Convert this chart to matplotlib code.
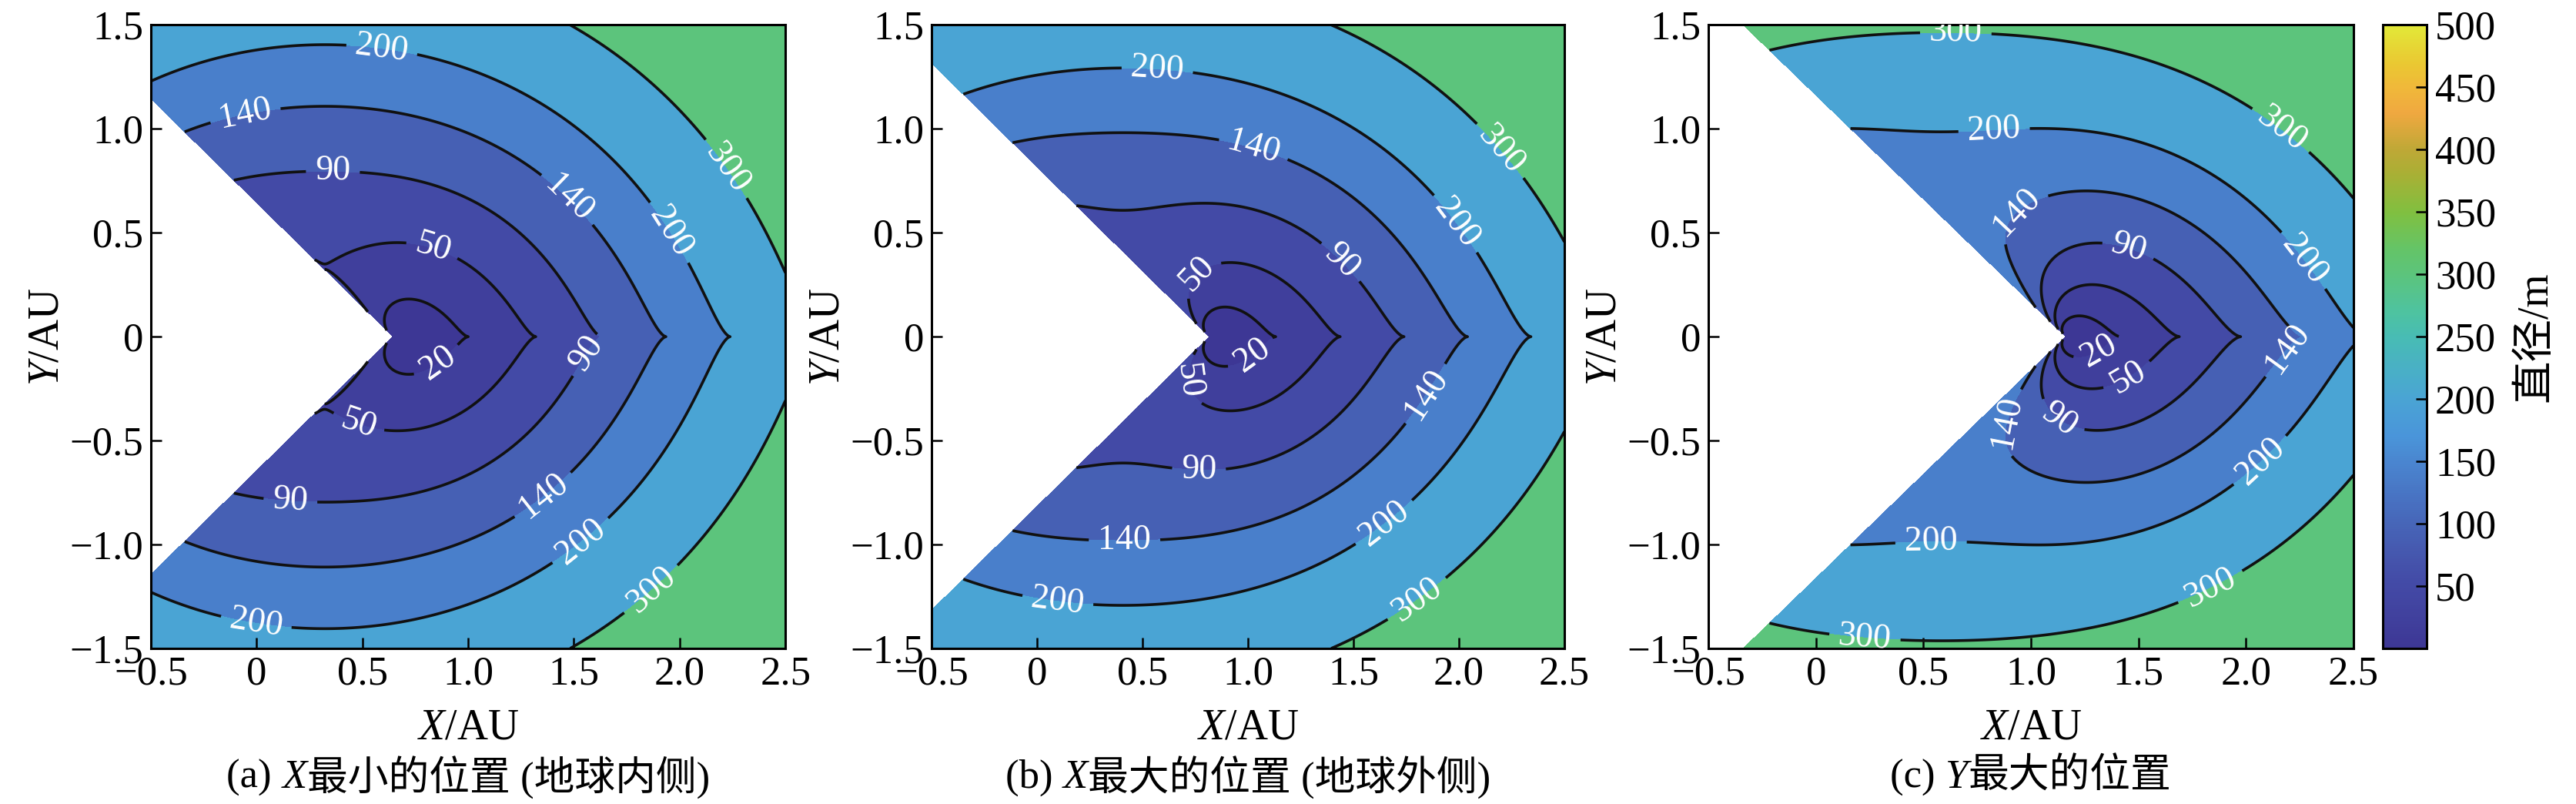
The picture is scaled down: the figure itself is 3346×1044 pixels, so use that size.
import numpy as np
import matplotlib
matplotlib.use('Agg')
import matplotlib.pyplot as plt
from matplotlib.colors import LinearSegmentedColormap, Normalize
from matplotlib.cm import ScalarMappable

plt.rcParams['font.family'] = ['Liberation Serif', 'Noto Sans CJK SC']
plt.rcParams['mathtext.fontset'] = 'custom'
plt.rcParams['mathtext.rm'] = 'Liberation Serif'
plt.rcParams['mathtext.it'] = 'Liberation Serif:italic'

# ---- data ----
panel_tags = ['(a) ', '(b) ', '(c) ']
panel_axis_letter = ['X', 'X', 'Y']
panel_titles = ['最小的位置 (地球内侧)', '最大的位置 (地球外侧)', '最大的位置']
observer_x = [0.643, 0.816, 1.162]      # AU, apex of the white wedge
diam_scale = 56.0                        # m per AU^2 (opposition)
phase_g = 0.15                           # H-G slope parameter
min_elong_deg = 45.0                     # white wedge half angle
contour_levels = [20, 50, 90, 140, 200, 300]
cbar_ticks = [50, 100, 150, 200, 250, 300, 350, 400, 450, 500]
x_ticks = [-0.5, 0, 0.5, 1.0, 1.5, 2.0, 2.5]
x_tick_labels = ['−0.5', '0', '0.5', '1.0', '1.5', '2.0', '2.5']
y_ticks = [-1.5, -1.0, -0.5, 0, 0.5, 1.0, 1.5]
y_tick_labels = ['−1.5', '−1.0', '−0.5', '0', '0.5', '1.0', '1.5']

# colour bar colours (value -> colour) as seen in the picture
cmap_vals = [0, 20, 50, 70, 100, 120, 150, 170, 200, 220, 250, 270, 300,
             320, 350, 380, 400, 430, 450, 470, 500]
cmap_cols = ['#3d3795', '#403f9c', '#434aa6', '#4554ac', '#4766b8', '#4872c2',
             '#4a86d0', '#4a95da', '#4aa4d4', '#49aec8', '#48bcb4', '#4ec3a0',
             '#5cc47c', '#64c468', '#80c040', '#a8b035', '#bea836', '#f0a840',
             '#f0b83a', '#eac832', '#e2e838']

# label spots (approximate, per panel)
label_spots = [
    [(0.59, 1.37), (-0.05, 1.05), (0.36, 0.78), (0.83, 0.42), (0.86, -0.13),
     (0.49, -0.39), (0.16, -0.78), (0.0, -1.36), (1.46, 0.65), (1.95, 0.50),
     (2.21, 0.80), (1.58, -0.09), (1.36, -0.77), (1.53, -0.98), (1.86, -1.21)],
    [(0.57, 1.28), (1.02, 0.88), (1.49, 0.41), (0.77, 0.29), (1.02, -0.09),
     (0.745, -0.21), (0.77, -0.55), (0.415, -0.97), (0.10, -1.26), (1.98, 0.54),
     (2.18, 0.88), (1.85, -0.28), (1.65, -0.90), (1.80, -1.26)],
    [(0.65, 1.42), (0.83, 0.97), (2.16, 0.99), (0.96, 0.57), (1.45, 0.41),
     (2.26, 0.36), (1.33, -0.09), (1.46, -0.21), (1.14, -0.39), (0.85, -0.40),
     (2.23, -0.09), (2.07, -0.60), (0.535, -0.96), (1.79, -1.11), (0.23, -1.42)],
]

cmap = LinearSegmentedColormap.from_list(
    'parula_like', [(v / 500.0, c) for v, c in zip(cmap_vals, cmap_cols)])
norm = Normalize(0, 500)

xg = np.linspace(-0.5, 2.5, 1201)
yg = np.linspace(-1.5, 1.5, 1201)
X, Y = np.meshgrid(xg, yg)


def diameter_field(xo):
    r = np.hypot(X, Y)
    d = np.hypot(X - xo, Y)
    cos_a = (-X * (xo - X) + Y ** 2) / np.maximum(r * d, 1e-12)
    alpha = np.arccos(np.clip(cos_a, -1, 1))
    t = np.tan(alpha / 2)
    phi1 = np.exp(-3.33 * t ** 0.63)
    phi2 = np.exp(-1.87 * t ** 1.22)
    phi = (1 - phase_g) * phi1 + phase_g * phi2
    D = diam_scale * r * d / np.sqrt(phi)
    elong = np.degrees(np.arccos(np.clip(-(X - xo) / np.maximum(d, 1e-12), -1, 1)))
    D[elong < min_elong_deg] = np.nan
    return D


def rich_text(fig, xc, yc, runs, size):
    rend = fig.canvas.get_renderer()
    texts = [fig.text(0, yc, s, fontsize=size, style=st, va='center', ha='left')
             for s, st in runs]
    widths = [t.get_window_extent(rend).width for t in texts]
    W = fig.bbox.width
    x = xc - sum(widths) / W / 2
    for t, w in zip(texts, widths):
        t.set_x(x)
        x += w / W


fig = plt.figure(figsize=(33.46, 10.44), dpi=100)
boxes = [[0.0586, 0.1935, 0.2463, 0.7755],
         [0.3616, 0.1935, 0.2457, 0.7755],
         [0.6632, 0.1935, 0.2504, 0.7755]]
band_colors = [cmap(norm(v)) for v in [0] + contour_levels]

for i in range(3):
    ax = fig.add_axes(boxes[i])
    D = diameter_field(observer_x[i])
    fill_levels = [0] + contour_levels + [1e6]
    ax.contourf(X, Y, D, levels=fill_levels, colors=band_colors)
    cs = ax.contour(X, Y, D, levels=contour_levels, colors='#111111', linewidths=2.6)
    ax.clabel(cs, fmt='%d', fontsize=33, colors='white', inline=True,
              inline_spacing=12, manual=label_spots[i])
    ax.set_xlim(-0.5, 2.5)
    ax.set_ylim(-1.5, 1.5)
    ax.set_xticks(x_ticks)
    ax.set_xticklabels(x_tick_labels)
    ax.set_yticks(y_ticks)
    ax.set_yticklabels(y_tick_labels)
    ax.tick_params(direction='in', labelsize=38, length=10, width=1.8, pad=7)
    for sp in ax.spines.values():
        sp.set_linewidth(2.2)
    ax.set_xlabel(r'$\mathit{X}$/AU', fontsize=40, labelpad=14)
    ax.set_ylabel(r'$\mathit{Y}$/AU', fontsize=40, labelpad=2)
    pos = ax.get_position()
    rich_text(fig, (pos.x0 + pos.x1) / 2, 0.033,
              [(panel_tags[i], 'normal'), (panel_axis_letter[i], 'italic'),
               (panel_titles[i], 'normal')], 38)

cax = fig.add_axes([0.925, 0.1935, 0.017, 0.7755])
cb = fig.colorbar(ScalarMappable(norm=norm, cmap=cmap), cax=cax, ticks=cbar_ticks)
cb.ax.tick_params(direction='in', labelsize=38, length=10, width=1.8, pad=8)
cb.outline.set_linewidth(2.2)
cb.set_label('直径/m', fontsize=40, labelpad=18)

fig.savefig('out.png', dpi=100)
